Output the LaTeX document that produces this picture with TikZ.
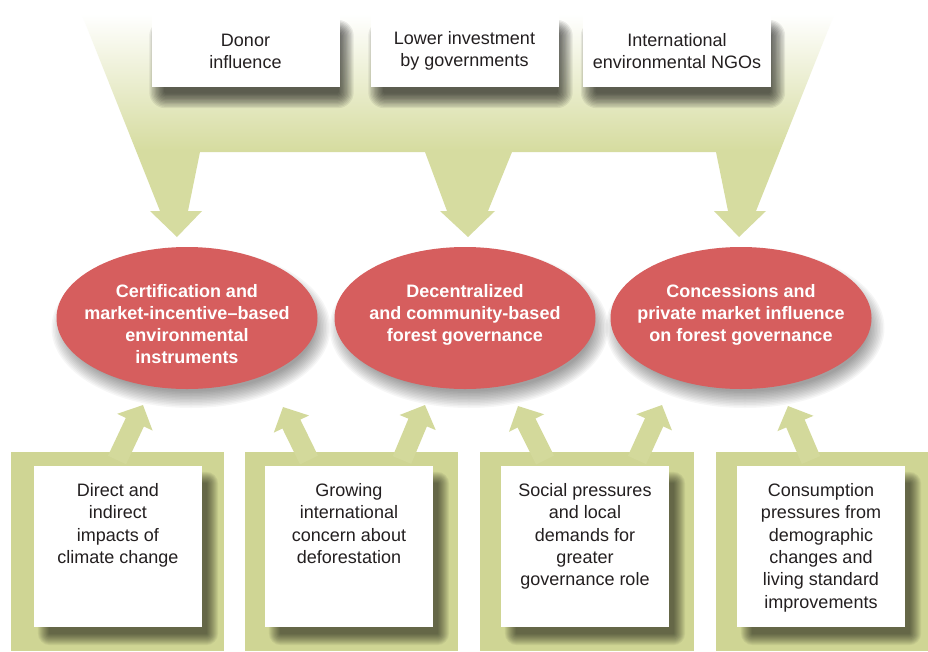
\documentclass[tikz,border=0pt]{standalone}
\usepackage{fontspec}
\setmainfont{Liberation Sans}
\usetikzlibrary{shapes.geometric,arrows.meta,calc}
\definecolor{fgreen}{RGB}{214,220,160}
\definecolor{cgreen}{RGB}{207,213,148}
\definecolor{agreen}{RGB}{211,217,155}
\definecolor{ered}{RGB}{214,94,94}
\definecolor{ink}{RGB}{35,31,32}
\pgfdeclareverticalshading{funnelshade}{100bp}{color(0bp)=(fgreen); color(43.75bp)=(fgreen); color(73bp)=(white); color(100bp)=(white)}
\pgfdeclarelayer{bg}
\pgfdeclarelayer{shad}
\pgfsetlayers{bg,shad,main}
% soft shadow for a rectangular node: node, dx, dy, spread, alpha
\newcommand\rectshadow[5]{%
  \begin{pgfonlayer}{shad}
  \foreach \k in {1,...,12}{%
    \pgfmathsetmacro\rr{#4*(\k/12-0.5)}%
    \pgfmathsetmacro\rc{#4*\k/12}%
    \fill[black, opacity=#5, rounded corners=\rc pt] ($(#1.north west)+(#2-\rr,#3-\rr)$) rectangle ($(#1.south east)+(#2+\rr,#3+\rr)$);
  }
  \end{pgfonlayer}}
% soft shadow for an elliptic node: node, dx, dy, spread, alpha
\newcommand\ovalshadow[5]{%
  \begin{pgfonlayer}{shad}
  \foreach \k in {1,...,12}{%
    \pgfmathsetmacro\rr{#4*(\k/12-0.5)}%
    \fill[black, opacity=#5] ($(#1.center)+(#2,#3)$) ellipse [x radius=130.5pt+\rr pt, y radius=71pt+\rr pt];
  }
  \end{pgfonlayer}}
\begin{document}
\begin{tikzpicture}[x=1pt,y=-1pt,
  topbox/.style={fill=white, minimum width=188pt, minimum height=72pt, inner sep=0pt, align=center, text=ink, font=\fontsize{18}{22}\selectfont},
  botbox/.style={fill=white, minimum width=168pt, minimum height=161pt, inner sep=0pt},
  bottext/.style={anchor=north, inner sep=0pt, align=center, text=ink, font=\fontsize{18}{22.3}\selectfont},
  oval/.style={ellipse, fill=ered, minimum width=261pt, minimum height=142pt, inner sep=0pt},
  ovaltext/.style={anchor=north, inner sep=0pt, align=center, text=white, font=\bfseries\fontsize{18}{22}\selectfont},
  column/.style={fill=cgreen},
  uparrow/.style={draw=agreen, line width=20pt, -{Triangle[width=38pt,length=19pt]}}
]
\useasboundingbox (0,0) rectangle (928,651);
\begin{pgfonlayer}{bg}
\fill[white] (0,0) rectangle (928,651);
% top funnel with three down arrows
\shade[shading=funnelshade] (78,5) -- (160,211) -- (150,211) -- (177,237) -- (202,211) -- (188,211) -- (200,152)
  -- (425,152) -- (447,211) -- (440,211) -- (468,237) -- (495,211) -- (488,211) -- (512,152)
  -- (716,152) -- (728,211) -- (714,211) -- (739,237) -- (766,211) -- (756,211) -- (838,5) -- cycle;
% bottom columns
\fill[column] (11,452) rectangle (224,651);
\fill[column] (245,452) rectangle (458,651);
\fill[column] (480,452) rectangle (694,651);
\fill[column] (716,452) rectangle (928,651);
% up arrows
\coordinate (a1s) at (117,460); \coordinate (a1t) at (143,405);
\coordinate (a2s) at (309,460); \coordinate (a2t) at (283,407);
\coordinate (a3s) at (402,460); \coordinate (a3t) at (425,405);
\coordinate (a4s) at (545,460); \coordinate (a4t) at (518,406);
\coordinate (a5s) at (637,460); \coordinate (a5t) at (662,405);
\coordinate (a6s) at (811,460); \coordinate (a6t) at (788,406);
\draw[uparrow] (a1s) -- (a1t);
\draw[uparrow] (a2s) -- (a2t);
\draw[uparrow] (a3s) -- (a3t);
\draw[uparrow] (a4s) -- (a4t);
\draw[uparrow] (a5s) -- (a5t);
\draw[uparrow] (a6s) -- (a6t);
\end{pgfonlayer}

% ellipses
\node[oval] (e1) at (187,318) {};
\node[oval] (e2) at (465,318) {};
\node[oval] (e3) at (741,318) {};
\ovalshadow{e1}{4}{10}{18}{0.035}
\ovalshadow{e2}{4}{10}{18}{0.035}
\ovalshadow{e3}{4}{10}{18}{0.035}
\node[ovaltext] (t1) at ($(e1.north)+(0,37.5)$) {Certification and\\market-incentive–based\\environmental\\instruments};
\node[ovaltext] (t2) at ($(e2.north)+(0,37.5)$) {Decentralized\\and community-based\\forest governance};
\node[ovaltext] (t3) at ($(e3.north)+(0,37.5)$) {Concessions and\\private market influence\\on forest governance};

% top boxes
\node[topbox] (d1) at (245.5,51) {Donor\\influence};
\node[topbox] (d2) at (464.5,51) {Lower investment\\by governments};
\node[topbox] (d3) at (677,51) {International\\environmental NGOs};
\rectshadow{d1}{6}{13}{16}{0.07}
\rectshadow{d2}{6}{13}{16}{0.07}
\rectshadow{d3}{6}{13}{16}{0.07}

% bottom boxes
\node[botbox] (b1) at (118,546.5) {};
\node[botbox] (b2) at (349,546.5) {};
\node[botbox] (b3) at (585,546.5) {};
\node[botbox] (b4) at (821,546.5) {};
\rectshadow{b1}{10}{12}{12}{0.055}
\rectshadow{b2}{10}{12}{12}{0.055}
\rectshadow{b3}{10}{12}{12}{0.055}
\rectshadow{b4}{10}{12}{12}{0.055}
\node[bottext] (bt1) at ($(b1.north)+(0,17.5)$) {Direct and\\indirect\\impacts of\\climate change};
\node[bottext] (bt2) at ($(b2.north)+(0,17.5)$) {Growing\\international\\concern about\\deforestation};
\node[bottext] (bt3) at ($(b3.north)+(0,17.5)$) {Social pressures\\and local\\demands for\\greater\\governance role};
\node[bottext] (bt4) at ($(b4.north)+(0,17.5)$) {Consumption\\pressures from\\demographic\\changes and\\living standard\\improvements};
\end{tikzpicture}
\end{document}
